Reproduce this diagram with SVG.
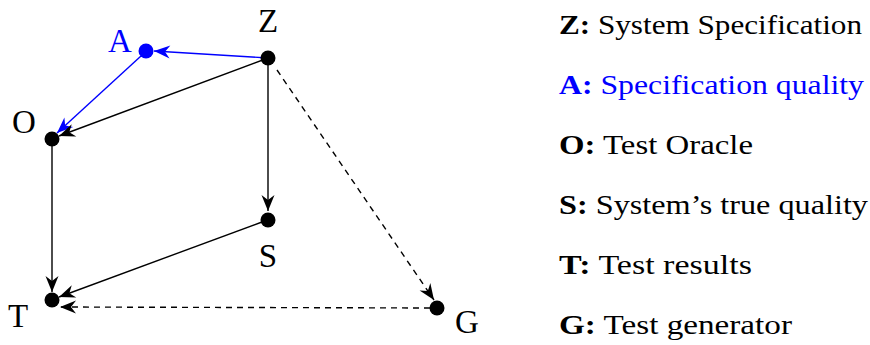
<svg xmlns="http://www.w3.org/2000/svg" width="870" height="345" viewBox="0 0 870 345">
<style>
.lbl{font-family:"Liberation Serif","DejaVu Serif",serif;font-size:33px;fill:#000}
.leg{font-family:"Liberation Serif","DejaVu Serif",serif;font-size:27px;fill:#000}
.b{font-weight:bold}
.blue{fill:#0000ff}
.e{stroke:#000;stroke-width:1.4;fill:none}
.eb{stroke:#0000ff;stroke-width:1.4;fill:none}
.d{stroke-dasharray:6,5}
</style>
<defs>
<marker id="ah" viewBox="-17 -7 19 14" markerWidth="19" markerHeight="14" markerUnits="userSpaceOnUse" refX="0" refY="0" orient="auto">
<path d="M0,0 L-16,-6.5 L-11,0 L-16,6.5 Z" fill="#000"/>
</marker>
<marker id="ahb" viewBox="-17 -7 19 14" markerWidth="19" markerHeight="14" markerUnits="userSpaceOnUse" refX="0" refY="0" orient="auto">
<path d="M0,0 L-16,-6.5 L-11,0 L-16,6.5 Z" fill="#0000ff"/>
</marker>
</defs>
<g id="connectors">
<line class="eb" x1="268" y1="58" x2="154" y2="51" marker-end="url(#ahb)"/>
<line class="eb" x1="141" y1="56" x2="57" y2="133" marker-end="url(#ahb)"/>
<line class="e" x1="268" y1="58" x2="59" y2="136" marker-end="url(#ah)"/>
<line class="e" x1="268" y1="58" x2="268" y2="211" marker-end="url(#ah)"/>
<line class="e" x1="262" y1="222" x2="59" y2="297" marker-end="url(#ah)"/>
<line class="e" x1="52" y1="139" x2="52" y2="292" marker-end="url(#ah)"/>
<line class="e d" x1="277" y1="70" x2="434" y2="300" marker-end="url(#ah)"/>
<line class="e d" x1="430" y1="308" x2="60" y2="307" marker-end="url(#ah)"/>
</g>
<g id="Z"><circle cx="268" cy="58" r="7.5" fill="#000"/><text class="lbl" x="268" y="32" text-anchor="middle">Z</text></g>
<g id="A"><circle cx="146" cy="51" r="7.5" fill="#0000ff"/><text class="lbl blue" x="120" y="52" text-anchor="middle">A</text></g>
<g id="O"><circle cx="52" cy="139" r="7.5" fill="#000"/><text class="lbl" x="24" y="133" text-anchor="middle">O</text></g>
<g id="S"><circle cx="268" cy="220" r="7.5" fill="#000"/><text class="lbl" x="268" y="267" text-anchor="middle">S</text></g>
<g id="T"><circle cx="52" cy="300" r="7.5" fill="#000"/><text class="lbl" x="18" y="327" text-anchor="middle">T</text></g>
<g id="G"><circle cx="437" cy="308" r="7.5" fill="#000"/><text class="lbl" x="467" y="333" text-anchor="middle">G</text></g>
<g id="legend">
<text class="leg" x="559" y="34" textLength="303" lengthAdjust="spacingAndGlyphs"><tspan class="b">Z:</tspan> System Specification</text>
<text class="leg blue" x="559" y="94" textLength="305" lengthAdjust="spacingAndGlyphs"><tspan class="b">A:</tspan> Specification quality</text>
<text class="leg" x="559" y="154" textLength="194" lengthAdjust="spacingAndGlyphs"><tspan class="b">O:</tspan> Test Oracle</text>
<text class="leg" x="559" y="214" textLength="309" lengthAdjust="spacingAndGlyphs"><tspan class="b">S:</tspan> System’s true quality</text>
<text class="leg" x="559" y="274" textLength="193" lengthAdjust="spacingAndGlyphs"><tspan class="b">T:</tspan> Test results</text>
<text class="leg" x="559" y="334" textLength="233" lengthAdjust="spacingAndGlyphs"><tspan class="b">G:</tspan> Test generator</text>
</g>
</svg>
